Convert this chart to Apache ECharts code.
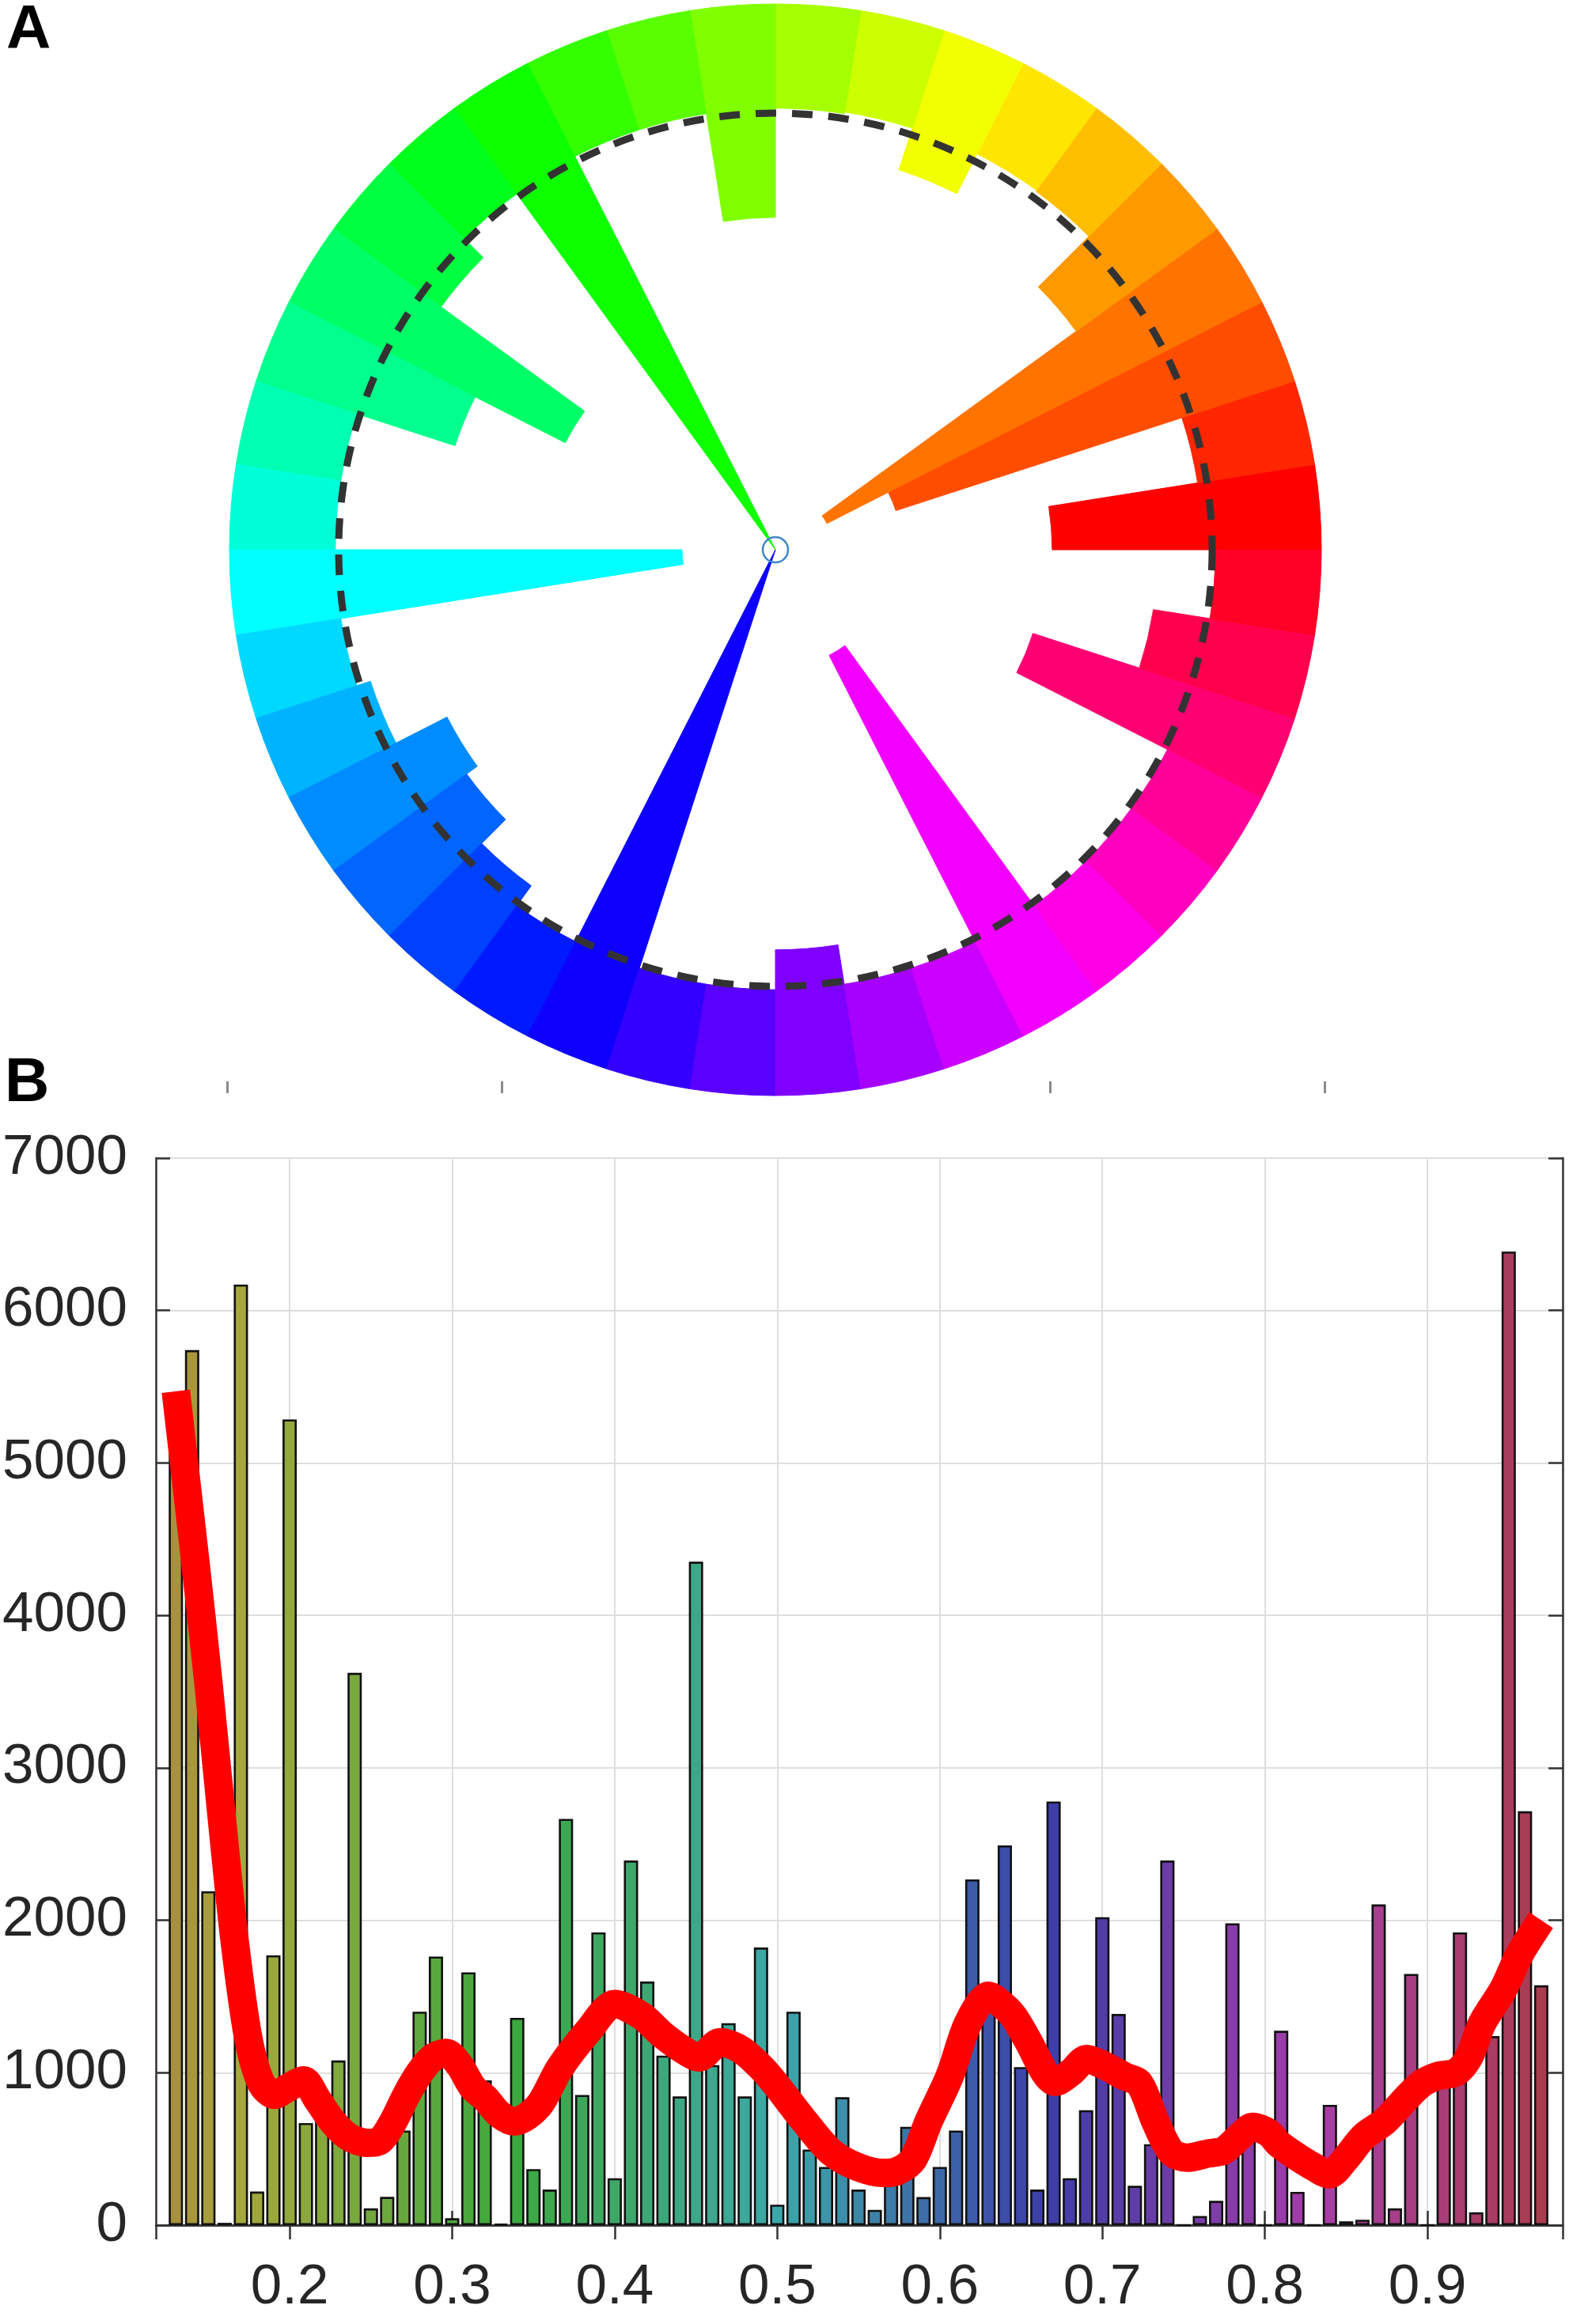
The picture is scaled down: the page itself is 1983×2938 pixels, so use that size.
<!DOCTYPE html>
<html>
<head>
<meta charset="utf-8">
<script src="https://cdn.jsdelivr.net/npm/echarts@6/dist/echarts.min.js"></script>
<style>
html,body{margin:0;padding:0;background:#ffffff;}
#chart{width:1983px;height:2938px;}
</style>
</head>
<body>
<div id="chart"></div>
<script>
// ---------------- Panel A : circular hue histogram (40 bins of 9 degrees) ----------------
const roseBins = ['0','9','18','27','36','45','54','63','72','81',
  '90','99','108','117','126','135','144','153','162','171',
  '180','189','198','207','216','225','234','243','252','261',
  '270','279','288','297','306','315','324','333','342','351'];
// inner edge of each sector, as a fraction of the outer radius
const roseInner = [0.507, 0.783, 0.232, 0.106, 0.681, 0.812, 0.814, 0.732, 0.812, 0.809,
  0.609, 0.809, 0.809, 0.000, 0.806, 0.757, 0.432, 0.617, 0.806, 0.806,
  0.171, 0.806, 0.780, 0.675, 0.699, 0.761, 0.806, 0.000, 0.806, 0.806,
  0.733, 0.806, 0.806, 0.217, 0.806, 0.806, 0.806, 0.496, 0.701, 0.806];
const dashedCircleRadius = 0.80;

// ---------------- Panel B : histogram of hue values ----------------
const histCenters = [0.13,0.14,0.15,0.16,0.17,0.18,0.19,0.20,0.21,0.22,
  0.23,0.24,0.25,0.26,0.27,0.28,0.29,0.30,0.31,0.32,
  0.33,0.34,0.35,0.36,0.37,0.38,0.39,0.40,0.41,0.42,
  0.43,0.44,0.45,0.46,0.47,0.48,0.49,0.50,0.51,0.52,
  0.53,0.54,0.55,0.56,0.57,0.58,0.59,0.60,0.61,0.62,
  0.63,0.64,0.65,0.66,0.67,0.68,0.69,0.70,0.71,0.72,
  0.73,0.74,0.75,0.76,0.77,0.78,0.79,0.80,0.81,0.82,
  0.83,0.84,0.85,0.86,0.87,0.88,0.89,0.90,0.91,0.92,
  0.93,0.94,0.95,0.96,0.97];
const histCounts = [5400,5740,2190,15,6170,220,1770,5285,670,715,
  1080,3623,110,185,620,1400,1762,45,1658,950,
  8,1360,367,233,2665,854,1920,308,2392,1598,
  1112,844,4352,1050,1325,844,1821,134,1400,496,
  382,839,233,100,320,645,184,382,620,2268,
  1500,2491,1037,233,2779,308,754,2020,1385,258,
  531,2392,0,60,159,1980,640,0,1275,218,
  0,789,25,35,2104,110,1648,0,1067,1920,
  84,1240,6387,2715,1573];
// smoothed curve (red)
const fitX = [0.130,0.142,0.150,0.158,0.166,0.1745,0.1826,0.1907,0.1988,0.2086,
  0.2167,0.2264,0.2362,0.2475,0.2557,0.2638,0.2719,0.2800,0.2882,0.2963,
  0.3044,0.3125,0.3206,0.3287,0.3384,0.3530,0.3660,0.3838,0.4000,0.4162,
  0.4292,0.4421,0.4519,0.4649,0.4778,0.4908,0.5006,0.5168,0.5330,0.5493,
  0.5655,0.5740,0.5836,0.5931,0.6061,0.6174,0.6300,0.6353,0.6450,0.6547,
  0.6645,0.6710,0.6807,0.6904,0.7002,0.7132,0.7229,0.7326,0.7424,0.7521,
  0.7651,0.7748,0.7845,0.7925,0.8023,0.8088,0.8186,0.8300,0.8397,0.8494,
  0.8608,0.8737,0.8867,0.8964,0.9062,0.9175,0.9256,0.9337,0.9467,0.9565,0.9700];
const fitY = [5470,4350,3560,2700,1880,1230,930,855,900,950,
  830,680,580,540,555,680,855,1000,1100,1130,
  1050,905,830,730,680,780,1027,1275,1450,1375,
  1250,1150,1100,1200,1150,1027,903,680,481,382,
  342,355,432,680,978,1325,1505,1474,1375,1201,
  1002,940,1002,1090,1052,978,928,680,481,442,
  470,490,581,645,605,531,457,382,333,432,
  581,680,829,928,978,1002,1102,1325,1548,1772,2000];
const xAxisMin = 0.1177, xAxisMax = 0.9832;
const yMax = 7000, yStep = 1000;

function hsv(h, s, v) {
  h = ((h % 360) + 360) % 360;
  const c = v * s, x = c * (1 - Math.abs((h / 60) % 2 - 1)), m = v - c;
  let r, g, b;
  if (h < 60) { r = c; g = x; b = 0; }
  else if (h < 120) { r = x; g = c; b = 0; }
  else if (h < 180) { r = 0; g = c; b = x; }
  else if (h < 240) { r = 0; g = x; b = c; }
  else if (h < 300) { r = x; g = 0; b = c; }
  else { r = c; g = 0; b = x; }
  return 'rgb(' + Math.round((r + m) * 255) + ',' + Math.round((g + m) * 255) + ',' + Math.round((b + m) * 255) + ')';
}

const FONT = '"Liberation Sans", Arial, Helvetica, sans-serif';
const TXT = '#262626';
const chart = echarts.init(document.getElementById('chart'), null, {renderer: 'canvas'});

const roseFill = roseInner.map((v, i) => {
  const col = hsv(Number(roseBins[i]), 1, 1);
  return {value: +(1 - v).toFixed(3), itemStyle: {color: col, borderColor: col, borderWidth: 1}};
});

const option = {
  animation: false,
  backgroundColor: '#ffffff',
  textStyle: {fontFamily: FONT},
  polar: {center: [980, 695], radius: [0, 690]},
  angleAxis: {type: 'category', data: roseBins, startAngle: 0, clockwise: false, boundaryGap: true, show: false},
  radiusAxis: {type: 'value', min: 0, max: 1, show: false},
  grid: [
    {left: 197, right: 8, top: 1464, bottom: 125, containLabel: false},
    {left: 287, right: 309, top: 1282, bottom: 1556, containLabel: false}
  ],
  xAxis: [
    {type: 'value', gridIndex: 0, position: 'bottom', min: xAxisMin, max: xAxisMax, splitNumber: 8,
      axisLine: {show: true, lineStyle: {color: '#333', width: 2.5}},
      axisTick: {show: true, inside: true, length: 18, lineStyle: {color: '#333', width: 2.5}},
      axisLabel: {show: true, fontSize: 71, color: TXT, fontFamily: FONT, margin: 44,
        showMinLabel: false, showMaxLabel: false, formatter: v => v.toFixed(1)},
      splitLine: {show: true, lineStyle: {color: '#dedede', width: 2}}},
    {type: 'value', gridIndex: 0, position: 'top', min: xAxisMin, max: xAxisMax, splitNumber: 8,
      axisLine: {show: true, lineStyle: {color: '#333', width: 2.5}},
      axisTick: {show: true, inside: true, length: 18, lineStyle: {color: '#333', width: 2.5}},
      axisLabel: {show: false}, splitLine: {show: false}},
    {type: 'value', gridIndex: 1, min: -1, max: 1, interval: 0.5, position: 'bottom',
      axisLine: {show: false},
      axisTick: {show: true, inside: true, length: 15, lineStyle: {color: '#8a8a8a', width: 3}},
      axisLabel: {show: false}, splitLine: {show: false}}
  ],
  yAxis: [
    {type: 'value', gridIndex: 0, position: 'left', min: 0, max: yMax, interval: yStep,
      axisLine: {show: true, lineStyle: {color: '#333', width: 2.5}},
      axisTick: {show: true, inside: true, length: 18, lineStyle: {color: '#333', width: 2.5}},
      axisLabel: {show: true, fontSize: 71, color: TXT, fontFamily: FONT, margin: 36, formatter: v => String(v)},
      splitLine: {show: true, lineStyle: {color: '#dedede', width: 2}}},
    {type: 'value', gridIndex: 0, position: 'right', min: 0, max: yMax, interval: yStep,
      axisLine: {show: true, lineStyle: {color: '#333', width: 2.5}},
      axisTick: {show: true, inside: true, length: 18, lineStyle: {color: '#333', width: 2.5}},
      axisLabel: {show: false}, splitLine: {show: false}},
    {type: 'value', gridIndex: 1, show: false}
  ],
  series: [
    {type: 'bar', coordinateSystem: 'polar', stack: 'rose', data: roseInner, barCategoryGap: '0%',
      itemStyle: {color: 'rgba(0,0,0,0)'}, silent: true, z: 2},
    {type: 'bar', coordinateSystem: 'polar', stack: 'rose', data: roseFill, barCategoryGap: '0%', z: 2},
    {type: 'bar', xAxisIndex: 0, yAxisIndex: 0, barWidth: 18,
      data: histCenters.map((x, i) => ({value: [x, histCounts[i]], itemStyle: {color: hsv(x * 360, 0.64, 0.66)}})),
      itemStyle: {borderColor: '#111111', borderWidth: 2.6}, z: 2},
    {type: 'line', xAxisIndex: 0, yAxisIndex: 0, data: fitX.map((x, i) => [x, fitY[i]]),
      smooth: 0.3, showSymbol: false, symbol: 'none',
      lineStyle: {color: '#ff0000', width: 36, cap: 'butt', join: 'round'}, z: 5}
  ]
};
chart.setOption(option);

// overlay: dashed reference circle, centre marker and panel letters
let cx = 980, cy = 695, rDash = 552;
try {
  const c0 = chart.convertToPixel({polarIndex: 0}, [0, 0]);
  const p = chart.convertToPixel({polarIndex: 0}, [dashedCircleRadius, 0]);
  if (c0 && p) { cx = c0[0]; cy = c0[1]; rDash = Math.hypot(p[0] - cx, p[1] - cy); }
} catch (e) {}
chart.setOption({
  graphic: [
    {type: 'circle', id: 'dash', z: 50, shape: {cx: cx, cy: cy, r: rDash},
      style: {fill: 'none', stroke: '#333333', lineWidth: 9, lineDash: [26, 20]}},
    {type: 'circle', id: 'ctr', z: 51, shape: {cx: cx, cy: cy, r: 16},
      style: {fill: 'none', stroke: '#3f86c8', lineWidth: 2.5}},
    {type: 'text', id: 'A', z: 60, x: 8, y: 0,
      style: {text: 'A', fontSize: 78, fontWeight: 'bold', fontFamily: FONT, fill: '#000', verticalAlign: 'top'}},
    {type: 'text', id: 'B', z: 60, x: 6, y: 1331,
      style: {text: 'B', fontSize: 78, fontWeight: 'bold', fontFamily: FONT, fill: '#000', verticalAlign: 'top'}}
  ]
});
</script>
</body>
</html>
